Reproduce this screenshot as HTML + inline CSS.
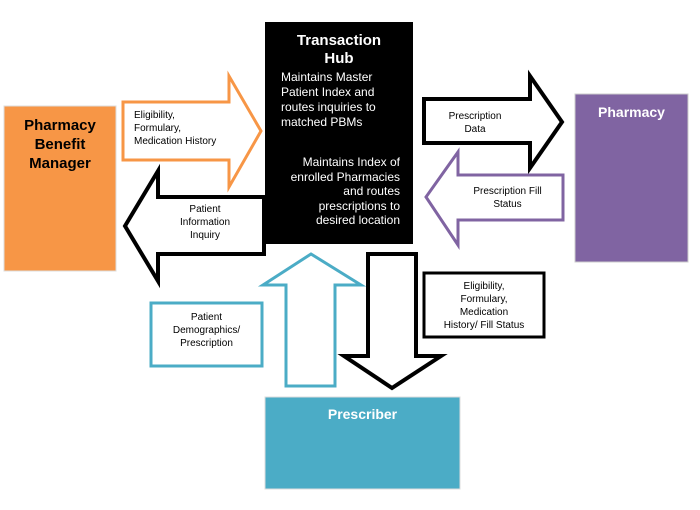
<!DOCTYPE html>
<html><head><meta charset="utf-8"><style>
body{margin:0;width:700px;height:510px;background:#fff;position:relative;overflow:hidden;font-family:"Liberation Sans",Arial,sans-serif}
.a{position:absolute;text-align:center;line-height:1.2}
</style></head><body>
<svg width="700" height="510" style="position:absolute;left:0;top:0">
<rect x="4" y="106" width="112" height="165" fill="#F79646" stroke="#ddd" stroke-width="1"/>
<rect x="265" y="22" width="148" height="222" fill="#000"/>
<rect x="575" y="94" width="113" height="168" fill="#8064A2" stroke="#ccc" stroke-width="1"/>
<rect x="265" y="397" width="195" height="92" fill="#4BACC6" stroke="#ddd" stroke-width="1"/>
<polygon points="123,102 229,102 229,76 261,131 229,187 229,160 123,160" fill="#fff" stroke="#F79646" stroke-width="3"/>
<polygon points="264,197 158,197 158,171 125,226 158,281 158,254 264,254" fill="#fff" stroke="#000" stroke-width="4"/>
<polygon points="424,99 530,99 530,76 562,122 530,168 530,143 424,143" fill="#fff" stroke="#000" stroke-width="4"/>
<polygon points="563,175 458,175 458,152 426,197 458,245 458,220 563,220" fill="#fff" stroke="#8064A2" stroke-width="3"/>
<polygon points="368,254 416,254 416,356 441,356 392,388 344,356 368,356" fill="#fff" stroke="#000" stroke-width="4"/>
<polygon points="286,386 335,386 335,285 361,285 311,254 263,285 286,285" fill="#fff" stroke="#4BACC6" stroke-width="3"/>
<rect x="151" y="303" width="111" height="63" fill="#fff" stroke="#4BACC6" stroke-width="3"/>
<rect x="424" y="273" width="120" height="64" fill="#fff" stroke="#000" stroke-width="3"/>
</svg>
<div class="a" style="left:4px;top:116px;width:112px;font-weight:bold;font-size:15px;line-height:19px">Pharmacy<br>Benefit<br>Manager</div>
<div class="a" style="left:265px;top:32px;width:148px;color:#fff;font-weight:bold;font-size:15px;line-height:18px">Transaction<br>Hub</div>
<div class="a" style="left:281px;top:70px;width:125px;color:#fff;font-size:12px;line-height:15px;text-align:left">Maintains Master<br>Patient Index and<br>routes inquiries to<br>matched PBMs</div>
<div class="a" style="left:270px;top:155px;width:130px;color:#fff;font-size:12px;line-height:14.5px;text-align:right">Maintains Index of<br>enrolled Pharmacies<br>and routes<br>prescriptions to<br>desired location</div>
<div class="a" style="left:575px;top:104px;width:113px;color:#fff;font-weight:bold;font-size:14px">Pharmacy</div>
<div class="a" style="left:265px;top:406px;width:195px;color:#fff;font-weight:bold;font-size:14px">Prescriber</div>
<div class="a" style="left:134px;top:109px;width:110px;font-size:10px;line-height:13px;text-align:left">Eligibility,<br>Formulary,<br>Medication History</div>
<div class="a" style="left:160px;top:203px;width:90px;font-size:10px;line-height:13px">Patient<br>Information<br>Inquiry</div>
<div class="a" style="left:430px;top:110px;width:90px;font-size:10px;line-height:13px">Prescription<br>Data</div>
<div class="a" style="left:455px;top:185px;width:105px;font-size:10px;line-height:13px">Prescription Fill<br>Status</div>
<div class="a" style="left:151px;top:311px;width:111px;font-size:10px;line-height:13px">Patient<br>Demographics/<br>Prescription</div>
<div class="a" style="left:424px;top:280px;width:120px;font-size:10px;line-height:13px">Eligibility,<br>Formulary,<br>Medication<br>History/ Fill Status</div>
</body></html>
